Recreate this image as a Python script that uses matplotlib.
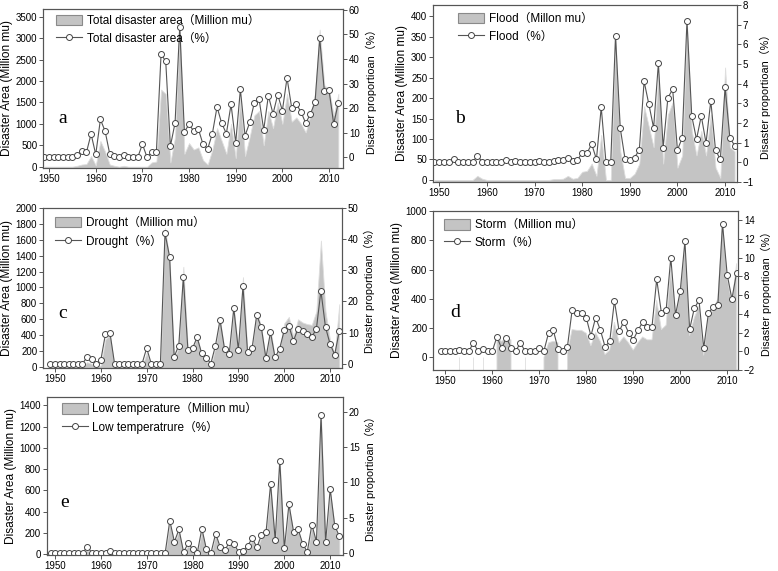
import numpy as np
import matplotlib
matplotlib.use("Agg")
import matplotlib.pyplot as plt
from matplotlib.patches import Patch
from matplotlib.lines import Line2D

plt.rcParams['font.family'] = ['Liberation Sans', 'Noto Sans CJK SC', 'DejaVu Sans']

years = list(range(1949, 2013))
nan = np.nan

# a - total disaster
total_area = [0, 0, 0, 0, 0, 0, 0, 20, 50, 60,
              250, 30, 600, 350, 50, 20, 0, 20, 0, 0,
              0, 0, 0, 100, 120, 1800, 1700, 100, 700, 3300,
              300, 550, 400, 450, 150, 50, 400, 900, 600, 300,
              1000, 200, 1600, 250, 700, 1200, 1300, 500, 1300, 900,
              1500, 1000, 1700, 1050, 1150, 1000, 800, 1200, 1700, 3200,
              1900, 1800, 1200, 1700]
total_pct = [0, 0, 0, 0, 0.3, 0, 0, 1, 2.7, 2,
             9.5, 1.2, 15.4, 10.7, 1.4, 0.5, 0, 1, 0, 0,
             0, 5.4, 0, 2, 2.3, 42, 39, 4.6, 14, 53,
             10.4, 13.4, 10.7, 11.5, 5.3, 3.5, 9.7, 20.5, 13.8, 9.7,
             21.5, 6, 27.6, 8.8, 14.2, 22.2, 23.8, 11.2, 25.1, 17.7,
             25.5, 19, 32.3, 20.1, 21.6, 18.5, 13.9, 17.6, 22.4, 48.4,
             26.9, 27.3, 13.6, 22.2]

# b - flood
flood_area = [0, 0, 0, 0, 0, 0, 0, 0, 0, 10,
              3, 0, 0, 0, 0, 0, 0, 0, 0, 0,
              0, 0, 0, 0, 0, 2, 2, 3, 10, 3,
              5, 20, 22, 40, 10, 110, 0, 0, 350, 70,
              5, 5, 15, 40, 180, 130, 80, 260, 40, 160,
              190, 30, 60, 380, 120, 60, 120, 60, 160, 30,
              5, 275, 80, 70]
flood_pct = [0, 0, 0, 0, 0.17, 0, 0, 0, 0, 0.34,
             0.03, 0, 0.03, 0, 0, 0.1, 0, 0.07, 0, 0,
             0, 0, 0.07, 0, 0, 0.07, 0.1, 0.1, 0.22, 0.07,
             0.1, 0.49, 0.46, 0.93, 0.15, 2.8, 0, 0, 6.42, 1.73,
             0.17, 0.1, 0.24, 0.64, 4.12, 2.95, 1.75, 5.03, 0.75, 3.29,
             3.71, 0.63, 1.24, 7.19, 2.36, 1.17, 2.36, 0.98, 3.12, 0.61,
             0.15, 3.81, 1.25, 0.85]

# c - drought
drought_area = [0, 0, 0, 0, 0, 0, 0, 0, 60, 40,
                0, 20, 350, 400, 0, 0, 0, 0, 0, 0,
                0, 180, 0, 0, 0, 1750, 1350, 100, 250, 1260,
                200, 220, 380, 150, 80, 0, 250, 600, 200, 130,
                750, 200, 1130, 170, 230, 700, 500, 90, 480, 100,
                220, 550, 630, 380, 600, 560, 540, 530, 700, 1590,
                700, 330, 160, 790]
drought_pct = [0, 0, 0, 0, 0, 0, 0, 0, 2.1, 1.5,
               0, 1.1, 9.4, 9.85, 0, 0, 0, 0, 0, 0,
               0, 5, 0, 0, 0, 41.9, 34.4, 2.25, 5.8, 27.7,
               4.4, 4.9, 8.5, 3.3, 1.9, 0, 5.8, 14, 4.6, 3.1,
               17.8, 4.4, 24.8, 3.9, 5.1, 15.6, 11.7, 1.8, 10.1, 2,
               4.8, 10.7, 12.2, 7.3, 11.2, 10.4, 9.5, 8.7, 11, 23.4,
               11.7, 6.3, 2.9, 10.4]

# d - storm (nan = no area drawn, lone zeros show as thin traces)
storm_area = [nan, nan, nan, nan, 0, nan, nan, 0, nan, 0,
              nan, nan, 130, 110, 130, 120, nan, nan, 0, nan,
              nan, nan, 0, 100, 110, 100, nan, 40, 190, 185,
              185, 165, 80, 170, 110, 20, 50, 240, 100, 140,
              100, 50, 100, 140, 120, 120, 390, 190, 220, 600,
              270, 440, 760, 150, 270, 350, 15, 290, 320, 400,
              920, 540, 370, 640]
storm_pct = [0, 0, 0, 0, 0.1, 0, 0, 0.9, 0, 0.2,
             0, 0, 1.55, 0.3, 1.45, 0.4, 0.05, 0.9, 0, 0,
             0, 0.4, 0.05, 2.0, 2.25, 0.25, 0.05, 0.5, 4.4, 4.1,
             4.1, 3.6, 1.65, 3.6, 2.3, 0.5, 1.05, 5.4, 2.15, 3.15,
             2.0, 1.2, 2.25, 3.1, 2.55, 2.65, 7.7, 4.1, 4.4, 10.0,
             3.9, 6.4, 11.75, 2.35, 4.6, 5.45, 0.35, 4.05, 4.75, 4.9,
             13.6, 8.2, 5.6, 8.4]

# e - low temperature
lowt_area = [0, 0, 0, 0, 0, 0, 0, 0, 40, 0,
             0, 0, 0, 20, 0, 0, 0, 0, 0, 0,
             0, 0, 0, 0, 0, 0, 290, 100, 220, 5,
             80, 30, 0, 220, 30, 0, 180, 50, 20, 90,
             80, 5, 15, 60, 130, 50, 160, 190, 640, 120,
             860, 40, 450, 200, 220, 80, 5, 260, 100, 1290,
             110, 590, 250, 150]
lowt_pct = [0, 0, 0, 0, 0, 0, 0, 0, 0.8, 0,
            0, 0, 0, 0.3, 0, 0, 0, 0, 0, 0,
            0, 0, 0, 0, 0, 0, 4.55, 1.55, 3.3, 0.1,
            1.3, 0.5, 0, 3.4, 0.45, 0, 2.7, 0.8, 0.35, 1.45,
            1.25, 0.1, 0.25, 1.0, 2.05, 0.75, 2.5, 2.9, 9.8, 1.8,
            13.1, 0.65, 6.9, 3.0, 3.35, 1.25, 0.1, 4.0, 1.55, 19.6,
            1.55, 9.05, 3.8, 2.35]

fill_c = '#c4c4c4'
line_c = '#555555'
frame_c = '#555555'


def panel(rect, area, pct, labels, letter, xlim, ylim1, yticks1, ylim2, yticks2,
          leg_xy, letter_xy):
    ax = fig.add_axes(rect)
    ax2 = ax.twinx()
    ax.set_xlim(*xlim)
    ax.set_ylim(*ylim1)
    ax2.set_ylim(*ylim2)
    area = np.array(area, dtype=float)
    ax.fill_between(years, ylim1[0], area, facecolor=fill_c,
                    edgecolor='#dedede', lw=0.6)
    ax2.plot(years, pct, '-o', color=line_c, lw=0.8, ms=4.3,
             mfc='white', mec='#444444', mew=0.7)
    ax.set_xticks(range(1950, 2011, 10))
    ax.set_yticks(yticks1)
    ax2.set_yticks(yticks2)
    ax.set_ylabel('Disaster Area (Million mu)', fontsize=8.6, labelpad=2)
    ax2.set_ylabel('Disaster proportioan（%）', fontsize=7.8, labelpad=4)
    for a in (ax, ax2):
        a.tick_params(labelsize=7, length=3, width=0.7, color=frame_c, pad=1.2)
        for s in a.spines.values():
            s.set_color(frame_c)
            s.set_linewidth(0.8)
    ax.text(letter_xy[0], letter_xy[1], letter, transform=ax.transAxes,
            fontsize=14, family='Liberation Serif', va='center', ha='center')
    handles = [Patch(facecolor=fill_c, edgecolor='#8a8a8a', lw=0.8),
               Line2D([], [], color=line_c, lw=0.8, marker='o', ms=4.3,
                      mfc='white', mec='#444444', mew=0.7)]
    ax2.legend(handles, labels, loc='upper left', bbox_to_anchor=leg_xy,
               frameon=False, fontsize=8.5, borderpad=0, borderaxespad=0,
               handlelength=2.2, handleheight=1.0, handletextpad=0.4,
               labelspacing=0.45, numpoints=1)
    return ax, ax2


fig = plt.figure(figsize=(7.78, 5.71), dpi=100)

panel([0.0553, 0.7058, 0.3856, 0.2785], total_area, total_pct,
      ['Total disaster area（Million mu）', 'Total disaster area（%）'], 'a',
      (1948.7, 2013), (-31, 3682), range(0, 3501, 500), (-4.3, 60.3), range(0, 61, 10),
      (0.043, 0.965), (0.067, 0.31))

panel([0.5566, 0.6813, 0.3907, 0.31], flood_area, flood_pct,
      ['Flood（Millon mu）', 'Flood（%）'], 'b',
      (1948.7, 2012.5), (-5, 428), range(0, 401, 50), (-1, 8), range(-1, 9),
      (0.082, 0.955), (0.089, 0.36))

panel([0.0553, 0.3555, 0.3843, 0.2802], drought_area, drought_pct,
      ['Drought（Million mu）', 'Drought（%）'], 'c',
      (1947.4, 2012.6), (-13, 2000), range(0, 2001, 200), (-1.4, 50), range(0, 51, 10),
      (0.04, 0.95), (0.067, 0.34))

panel([0.5566, 0.352, 0.392, 0.2785], storm_area, storm_pct,
      ['Storm（Million mu）', 'Storm（%）'], 'd',
      (1947.4, 2012.3), (-86, 1000), range(0, 1001, 200), (-1.9, 15), range(-2, 15, 2),
      (0.036, 0.95), (0.072, 0.36))

panel([0.0604, 0.0285, 0.3805, 0.2765], lowt_area, lowt_pct,
      ['Low temperature（Million mu）', 'Low temperatrure（%）'], 'e',
      (1948.2, 2012.8), (-5, 1480), range(0, 1401, 200), (-0.3, 22.2), range(0, 21, 5),
      (0.05, 0.965), (0.061, 0.33))

fig.savefig('out.png', dpi=100)
